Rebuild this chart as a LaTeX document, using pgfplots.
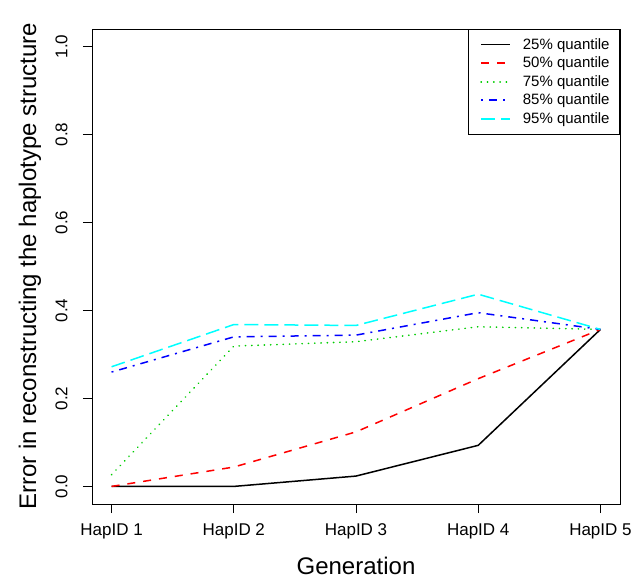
\documentclass[border=0pt]{standalone}
\usepackage{fontspec}
\setmainfont{Liberation Sans}
\usepackage{pgfplots}
\pgfplotsset{compat=1.18}
\definecolor{myred}{rgb}{1,0,0}
\definecolor{mygreen}{rgb}{0,0.804,0}
\definecolor{myblue}{rgb}{0,0,1}
\definecolor{mycyan}{rgb}{0,1,1}
\begin{document}
\begin{tikzpicture}
\useasboundingbox (-92pt,-78pt) rectangle (552pt,504pt);
\begin{axis}[
  scale only axis,
  width=528pt, height=475pt,
  xmin=0.84, xmax=5.16, ymin=-0.04, ymax=1.04,
  xtick={1,2,3,4,5},
  xticklabels={HapID 1,HapID 2,HapID 3,HapID 4,HapID 5},
  ytick={0,0.2,0.4,0.6,0.8,1.0},
  yticklabels={0.0,0.2,0.4,0.6,0.8,1.0},
  xtick pos=bottom, ytick pos=left,
  tick align=outside,
  major tick length=9pt,
  every tick/.style={black, line width=0.8pt},
  axis line style={line width=0.8pt},
  ticklabel style={font=\fontsize{17}{20}\selectfont},
  xticklabel style={yshift=-7pt},
  yticklabel style={rotate=90, anchor=south},
  yticklabel shift=12pt,
  /pgf/number format/assume math mode=true,
  xlabel={Generation},
  ylabel={Error in reconstructing the haplotype structure},
  every axis x label/.style={at={(axis description cs:0.5,-0.1305)}, anchor=center, font=\fontsize{24}{28}\selectfont},
  every axis y label/.style={at={(axis description cs:-0.1174,0.5)}, rotate=90, anchor=center, font=\fontsize{24}{28}\selectfont},
  legend style={at={(1,1)}, anchor=north east, draw=black, line width=0.8pt,
    font=\fontsize{15}{18}\selectfont, row sep=2.2pt,
    inner xsep=8pt, inner ysep=7pt, cells={anchor=west}},
  legend image code/.code={\path (-4pt,0pt); \draw[#1, line width=1.6pt] (0pt,0pt) -- (29pt,0pt);},
]
\addplot[black, line width=1.5pt] coordinates {(1,0) (2,0) (3,0.0235) (4,0.0934) (5,0.357)};
\addlegendentry{\hspace{10pt}25\% quantile}
\addplot[color=myred, line width=1.5pt, dash pattern=on 8pt off 8pt] coordinates {(1,0) (2,0.044) (3,0.124) (4,0.245) (5,0.357)};
\addlegendentry{\hspace{10pt}50\% quantile}
\addplot[color=mygreen, line width=1.6pt, line cap=round, dash pattern=on 0.3pt off 6pt] coordinates {(1,0.0266) (2,0.319) (3,0.329) (4,0.363) (5,0.357)};
\addlegendentry{\hspace{10pt}75\% quantile}
\addplot[color=myblue, line width=1.5pt, dash pattern=on 2pt off 6pt on 8pt off 6pt] coordinates {(1,0.260) (2,0.340) (3,0.344) (4,0.395) (5,0.357)};
\addlegendentry{\hspace{10pt}85\% quantile}
\addplot[color=mycyan, line width=1.5pt, dash pattern=on 14pt off 6pt] coordinates {(1,0.272) (2,0.368) (3,0.366) (4,0.437) (5,0.357)};
\addlegendentry{\hspace{10pt}95\% quantile}
\end{axis}
\end{tikzpicture}
\end{document}
